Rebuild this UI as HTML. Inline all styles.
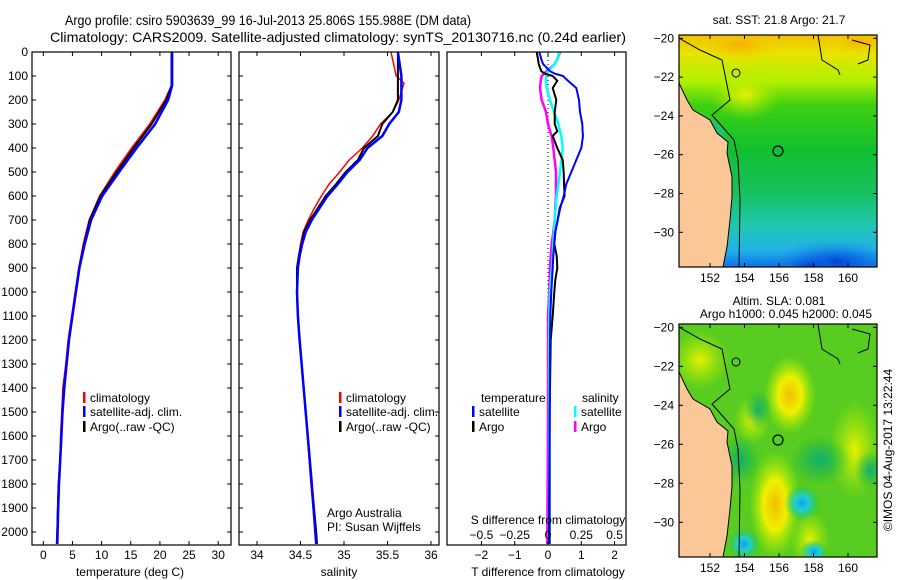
<!DOCTYPE html>
<html><head><meta charset="utf-8"><style>
html,body{margin:0;padding:0;background:#fff;}
svg{display:block;font-family:"Liberation Sans",sans-serif;}
</style></head><body>
<svg id="chart" width="900" height="580" viewBox="0 0 900 580">
<defs>
<clipPath id="c1"><rect x="32" y="52" width="199" height="493"/></clipPath>
<clipPath id="c2"><rect x="239" y="52" width="200" height="493"/></clipPath>
<clipPath id="c3"><rect x="447" y="52" width="179" height="493"/></clipPath>
<clipPath id="m1"><rect x="679" y="35" width="198" height="232"/></clipPath>
<clipPath id="m2"><rect x="679" y="324" width="198" height="233"/></clipPath>
<linearGradient id="sst" x1="0" y1="0" x2="0" y2="1">
<stop offset="0" stop-color="#f4c000"/><stop offset="0.08" stop-color="#e8e400"/>
<stop offset="0.2" stop-color="#b0f000"/><stop offset="0.3" stop-color="#40d010"/>
<stop offset="0.5" stop-color="#10c030"/><stop offset="0.68" stop-color="#18c060"/>
<stop offset="0.82" stop-color="#20c8b0"/><stop offset="0.93" stop-color="#20b0e8"/><stop offset="1" stop-color="#1070e8"/>
</linearGradient>
<radialGradient id="yb"><stop offset="0" stop-color="#f0c000"/><stop offset="0.45" stop-color="#f0f000"/><stop offset="1" stop-color="#a0f000" stop-opacity="0"/></radialGradient>
<radialGradient id="yb2"><stop offset="0" stop-color="#e8f000"/><stop offset="1" stop-color="#b0f000" stop-opacity="0"/></radialGradient>
<radialGradient id="cb"><stop offset="0" stop-color="#10a0f0"/><stop offset="0.4" stop-color="#20d0d0"/><stop offset="1" stop-color="#10c060" stop-opacity="0"/></radialGradient>
<radialGradient id="tb"><stop offset="0" stop-color="#10b070"/><stop offset="1" stop-color="#10b050" stop-opacity="0"/></radialGradient>
<radialGradient id="ob"><stop offset="0" stop-color="#f8b000"/><stop offset="1" stop-color="#f0d000" stop-opacity="0"/></radialGradient>
<radialGradient id="bb"><stop offset="0" stop-color="#0040d0"/><stop offset="1" stop-color="#1080f0" stop-opacity="0"/></radialGradient>
</defs>

<text x="65" y="25" font-size="14" textLength="406" lengthAdjust="spacingAndGlyphs">Argo profile: csiro 5903639_99 16-Jul-2013 25.806S 155.988E (DM data)</text>
<text x="50" y="42" font-size="14" textLength="576" lengthAdjust="spacingAndGlyphs">Climatology: CARS2009. Satellite-adjusted climatology: synTS_20130716.nc (0.24d earlier)</text>

<g id="p1"></g>
<g id="p2"></g>
<g id="p3"></g>

<g>
<g clip-path="url(#m1)">
<rect x="679" y="35" width="198" height="232" fill="url(#sst)"/>
<ellipse cx="740" cy="45" rx="40" ry="16" fill="url(#ob)"/>
<ellipse cx="860" cy="42" rx="30" ry="12" fill="url(#ob)"/>
<ellipse cx="745" cy="95" rx="35" ry="25" fill="url(#yb2)"/>
<ellipse cx="835" cy="262" rx="60" ry="22" fill="url(#bb)"/>
<ellipse cx="810" cy="266" rx="30" ry="12" fill="url(#bb)"/>
<ellipse cx="715" cy="170" rx="14" ry="50" fill="#20c0a0" opacity="0.6"/>
<polygon points="679,83 687,100 693,110 710,120 717,133 728,142 727,153 732,177 732,197 730,220 727,247 723,267 679,267" fill="#f9c896" stroke="#000" stroke-width="1"/>
<polyline points="679,38 700,50 722,60 728,90 730,100 712,115 734,140 738,160 740,200 739,267" fill="none" stroke="#000" stroke-width="1"/>
<polyline points="818,35 822,60 838,70 840,75" fill="none" stroke="#000" stroke-width="1"/>
<polyline points="852,40 870,45 868,60 858,64" fill="none" stroke="#000" stroke-width="1"/>
<circle cx="736" cy="73" r="4" fill="none" stroke="#000"/>
<circle cx="778" cy="151" r="5" fill="none" stroke="#000" stroke-width="1.2"/>
</g>
<rect x="679" y="35" width="198" height="232" fill="none" stroke="#000" stroke-width="1.2"/>
<text x="779" y="24" font-size="12" text-anchor="middle">sat. SST: 21.8 Argo: 21.7</text>
<g id="mt1"></g>
</g>

<g>
<g clip-path="url(#m2)">
<rect x="679" y="324" width="198" height="233" fill="#58cc20"/>
<ellipse cx="700" cy="360" rx="30" ry="30" fill="url(#yb2)"/>
<ellipse cx="790" cy="395" rx="26" ry="40" fill="url(#yb)"/>
<ellipse cx="775" cy="505" rx="26" ry="55" fill="url(#yb)"/>
<ellipse cx="855" cy="450" rx="26" ry="50" fill="url(#yb2)"/>
<ellipse cx="810" cy="540" rx="20" ry="30" fill="url(#yb2)"/>
<ellipse cx="752" cy="420" rx="18" ry="24" fill="url(#yb2)"/>
<ellipse cx="758" cy="410" rx="14" ry="20" fill="url(#tb)"/>
<ellipse cx="820" cy="460" rx="30" ry="25" fill="url(#tb)"/>
<ellipse cx="870" cy="470" rx="15" ry="20" fill="url(#tb)"/>
<ellipse cx="740" cy="460" rx="20" ry="25" fill="url(#tb)"/>
<ellipse cx="802" cy="503" rx="18" ry="18" fill="url(#cb)"/>
<ellipse cx="744" cy="544" rx="16" ry="16" fill="url(#cb)"/>
<ellipse cx="814" cy="552" rx="14" ry="12" fill="url(#cb)"/>
<polygon points="679,372 687,389 693,399 710,409 717,422 728,431 727,442 732,466 732,486 730,509 727,536 723,557 679,557" fill="#f9c896" stroke="#000" stroke-width="1"/>
<polyline points="679,327 700,339 722,349 728,379 730,389 712,404 734,429 738,449 740,489 739,557" fill="none" stroke="#000" stroke-width="1"/>
<polyline points="818,324 822,349 838,359 840,364" fill="none" stroke="#000" stroke-width="1"/>
<polyline points="852,329 870,334 868,349 858,353" fill="none" stroke="#000" stroke-width="1"/>
<circle cx="736" cy="362" r="4" fill="none" stroke="#000"/>
<circle cx="778" cy="440" r="5" fill="none" stroke="#000" stroke-width="1.2"/>
</g>
<rect x="679" y="324" width="198" height="233" fill="none" stroke="#000" stroke-width="1.2"/>
<text x="779" y="305" font-size="12" text-anchor="middle">Altim. SLA: 0.081</text>
<text x="786" y="318" font-size="12" text-anchor="middle">Argo h1000: 0.045 h2000: 0.045</text>
<g id="mt2"></g>
</g>
<text transform="translate(892,450) rotate(-90)" font-size="12" text-anchor="middle">©IMOS 04-Aug-2017 13:22:44</text>
</svg>
<script>
const D1 = [0,140,200,300,400,500,600,700,800,900,1000,1100,1200,1300,1400,1500,1600,1700,1800,1900,2000,2050];
const climT = [22.0,22.0,20.9,18.3,15.2,12.3,9.7,7.9,6.9,6.1,5.5,4.9,4.3,3.9,3.4,3.2,3.0,2.9,2.6,2.5,2.4,2.3];
const satT = [22.1,22.1,21.4,19.2,16.0,13.0,10.1,8.2,7.1,6.2,5.6,5.0,4.4,4.0,3.6,3.3,3.1,2.9,2.7,2.55,2.45,2.4];
const argoT = [22.0,22.0,21.1,18.6,15.5,12.6,9.8,8.0,7.0,6.2,5.6,5.0,4.4,4.0,3.5,3.3,3.1,2.9,2.65,2.5,2.4,2.35];
const D2 = [0,100,130,200,250,300,350,400,450,500,550,600,650,700,750,800,850,900,1000,1100,1200,1500,1800,2000,2050];
const climS = [35.54,35.60,35.69,35.63,35.56,35.42,35.33,35.21,35.06,34.95,34.83,34.74,34.66,34.59,34.53,34.50,34.48,34.46,34.46,34.47,34.49,34.56,34.62,34.67,34.68];
const satS = [35.62,35.66,35.66,35.66,35.63,35.52,35.44,35.27,35.18,35.04,34.93,34.81,34.72,34.63,34.56,34.52,34.49,34.47,34.46,34.47,34.49,34.56,34.63,34.67,34.68];
const argoS = [35.62,35.62,35.62,35.62,35.56,35.44,35.39,35.23,35.16,35.02,34.91,34.79,34.70,34.61,34.54,34.51,34.48,34.46,34.46,34.47,34.49,34.56,34.63,34.68,34.69];
const D3 = [0,30,50,80,90,100,120,150,200,250,300,330,350,400,450,500,550,600,650,700,750,800,850,900,950,1000,1100,1200,1500,2050];
const satTd = [-0.26,-0.2,-0.15,0.06,0.2,0.45,0.6,0.85,0.93,0.96,1.03,1.04,1.05,1.0,0.85,0.7,0.55,0.47,0.37,0.29,0.22,0.19,0.16,0.14,0.12,0.1,0.07,0.06,0.05,0.05];
const argoTd = [-0.34,-0.3,-0.28,-0.2,-0.1,0.14,0.28,0.14,0.25,0.2,0.2,0.28,0.14,0.28,0.44,0.47,0.48,0.5,0.35,0.29,0.22,0.19,0.26,0.28,0.22,0.19,0.14,0.08,0.05,0.03];
const satSd = [0.085,0.07,0.05,0.0,-0.01,-0.015,-0.015,-0.01,0.015,0.045,0.078,0.09,0.1,0.11,0.1,0.09,0.078,0.065,0.058,0.05,0.045,0.04,0.035,0.03,0.02,0.015,0.01,0.008,0.008,0.008];
const argoSd = [0.09,0.07,0.05,-0.01,-0.03,-0.047,-0.055,-0.06,-0.047,-0.015,0.0,0.015,0.028,0.04,0.05,0.06,0.06,0.06,0.055,0.05,0.04,0.028,0.02,0.015,0.012,0.01,0.0,0.0,0.0,-0.005];
const depthTicks = [0,100,200,300,400,500,600,700,800,900,1000,1100,1200,1300,1400,1500,1600,1700,1800,1900,2000];
const tempTicks = [0,5,10,15,20,25,30];
const salTicks = [34,34.5,35,35.5,36];
const tdTicks = [-2,-1,0,1,2];
const sdTicks = [-0.5,-0.25,0,0.25,0.5];
const sdLabels = ["\u22120.5","\u22120.25","0","0.25","0.5"];
const latTicks = [-20,-22,-24,-26,-28,-30];
const lonTicks = [152,154,156,158,160];

const NS='http://www.w3.org/2000/svg';
const yD = d => 52 + 0.24*d;
const xT = t => 43.3 + 5.83*t;
const xS = s => 257 + 87*(s-34);
const xTd = t => 548 + 33.3*t;
const xSd = s => 548 + 133.2*s;

function mk(tag, parent, attrs){const e=document.createElementNS(NS,tag);for(const k in attrs)e.setAttribute(k,attrs[k]);parent.appendChild(e);return e;}
function txt(parent,x,y,s,anchor,size){const t=mk('text',parent,{x:x,y:y,'font-size':size||12,'text-anchor':anchor||'middle'});t.textContent=s;return t;}

function line(parent, xs, ds, fx, color, w, name){
  const pts = xs.map((v,i)=>fx(v).toFixed(1)+','+yD(ds[i]).toFixed(1)).join(' ');
  const p = mk('polyline', parent, {points:pts, fill:'none', stroke:color, 'stroke-width':w});
  
  
}
function depthAxis(g, x0, x1, labels){
  depthTicks.forEach(d=>{
    mk('line',g,{x1:x0,y1:yD(d),x2:x0+4,y2:yD(d),stroke:'#000'});
    mk('line',g,{x1:x1-4,y1:yD(d),x2:x1,y2:yD(d),stroke:'#000'});
    if(labels){const t=txt(g,28,yD(d)+4,String(d),'end');
      
      }
  });
}
function xTicks(g, ticks, fx, lbls, ly){
  ticks.forEach((v,i)=>{
    const x=fx(v);
    mk('line',g,{x1:x,y1:52,x2:x,y2:56,stroke:'#000'});
    mk('line',g,{x1:x,y1:541,x2:x,y2:545,stroke:'#000'});
    if(lbls){const t=txt(g,x,ly,lbls[i]);
      
      }
  });
}
function legend(g, x, y, color, label){
  mk('rect',g,{x:x,y:y-10,width:2.5,height:11,fill:color});
  const t=txt(g,x+7,y,label,'start');
  
  
}

const p1=document.getElementById('p1');
const c1=mk('g',p1,{'clip-path':'url(#c1)'});
line(c1, climT, D1, xT, '#ff0000', 2, 'climatology-temperature-line');
line(c1, argoT, D1, xT, '#000000', 2, 'argo-temperature-line');
line(c1, satT, D1, xT, '#0000ff', 2.5, 'satellite-temperature-line');
mk('rect',p1,{x:32,y:52,width:199,height:493,fill:'none',stroke:'#000','stroke-width':1.2});
depthAxis(p1,32,231,true);
xTicks(p1,tempTicks,xT,tempTicks.map(String),559);
txt(p1,130,576,'temperature (deg C)');
legend(p1,83,402,'#ff0000','climatology');
legend(p1,83,416,'#0000ff','satellite-adj. clim.');
legend(p1,83,431,'#000000','Argo(..raw -QC)');

const p2=document.getElementById('p2');
const c2=mk('g',p2,{'clip-path':'url(#c2)'});
line(c2, climS, D2, xS, '#ff0000', 1.5, 'climatology-salinity-line');
line(c2, argoS, D2, xS, '#000000', 2, 'argo-salinity-line');
line(c2, satS, D2, xS, '#0000ff', 2.5, 'satellite-salinity-line');
mk('rect',p2,{x:239,y:52,width:200,height:493,fill:'none',stroke:'#000','stroke-width':1.2});
depthAxis(p2,239,439,false);
xTicks(p2,salTicks,xS,salTicks.map(String),559);
txt(p2,339,576,'salinity');
legend(p2,339,402,'#ff0000','climatology');
legend(p2,339,416,'#0000ff','satellite-adj. clim.');
legend(p2,339,431,'#000000','Argo(..raw -QC)');
txt(p2,327,517,'Argo Australia','start');
txt(p2,327,531,'PI: Susan Wijffels','start');

const p3=document.getElementById('p3');
const c3=mk('g',p3,{'clip-path':'url(#c3)'});
mk('line',c3,{x1:xTd(0),y1:52,x2:xTd(0),y2:545,stroke:'#000','stroke-dasharray':'1,3'});
line(c3, argoSd, D3, xSd, '#ff00ff', 2.5, 'argo-salinity-diff-line');
line(c3, satSd, D3, xSd, '#00ffff', 2.5, 'satellite-salinity-diff-line');
line(c3, argoTd, D3, xTd, '#000000', 2, 'argo-temperature-diff-line');
line(c3, satTd, D3, xTd, '#0000ff', 2, 'satellite-temperature-diff-line');
mk('rect',p3,{x:447,y:52,width:179,height:493,fill:'none',stroke:'#000','stroke-width':1.2});
xTicks(p3,tdTicks,xTd,tdTicks.map(v=>v<0?'\u2212'+(-v):String(v)),559);
sdTicks.forEach((v,i)=>{const t=txt(p3,xSd(v),539,sdLabels[i]);
  
  });
txt(p3,548,524,'S difference from climatology');
txt(p3,548,576,'T difference from climatology');
txt(p3,481,402,'temperature','start');
legend(p3,472,416,'#0000ff','satellite');
legend(p3,472,431,'#000000','Argo');
txt(p3,582,402,'salinity','start');
legend(p3,574,416,'#00ffff','satellite');
legend(p3,574,431,'#ff00ff','Argo');

function mapTicks(id, top, bottom, lat20y, pxPerDeg){
  const g=document.getElementById(id);
  latTicks.forEach(l=>{const y=lat20y+(-20-l)*pxPerDeg;
    mk('line',g,{x1:679,y1:y,x2:683,y2:y,stroke:'#000'});
    mk('line',g,{x1:873,y1:y,x2:877,y2:y,stroke:'#000'});
    const t=txt(g,674,y+4,'\u2212'+(-l),'end');
    
    });
  lonTicks.forEach(l=>{const x=710+(l-152)*17.25;
    mk('line',g,{x1:x,y1:top,x2:x,y2:top+4,stroke:'#000'});
    mk('line',g,{x1:x,y1:bottom-4,x2:x,y2:bottom,stroke:'#000'});
    const t=txt(g,x,bottom+15,String(l));
    
    });
}
mapTicks('mt1',35,267,38.3,19.4);
mapTicks('mt2',324,557,327.3,19.5);
</script>
</body></html>
